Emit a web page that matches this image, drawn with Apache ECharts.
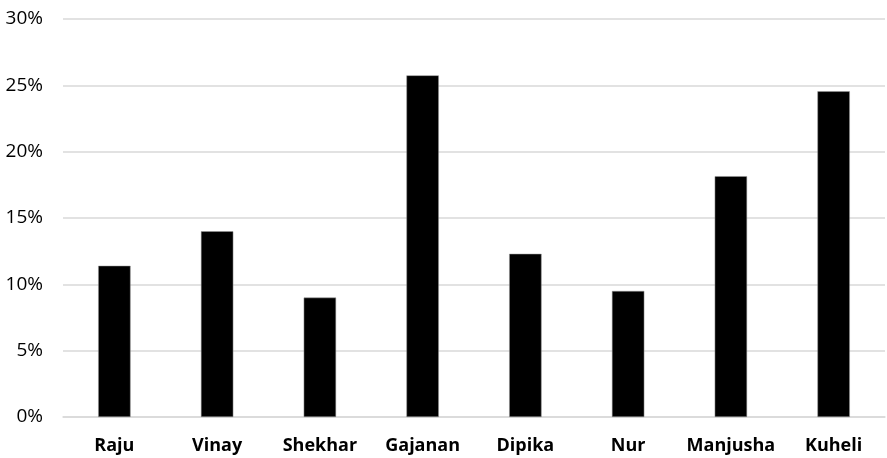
<!DOCTYPE html>
<html lang="en">
<head>
    <meta charset="UTF-8">
    <title>Share by person</title>
    <script src="https://cdn.jsdelivr.net/npm/echarts@6/dist/echarts.min.js"></script>
    <style>
        html, body { margin: 0; padding: 0; background: #fff; }
        #main { width: 887px; height: 458px; }
    </style>
</head>
<body>
<div id="main"></div>
<script type="text/javascript">
    // data
    var names = ['Raju', 'Vinay', 'Shekhar', 'Gajanan', 'Dipika', 'Nur', 'Manjusha', 'Kuheli'];
    var shares = [11.4, 14.0, 9.0, 25.75, 12.3, 9.5, 18.15, 24.55];
    var yTicks = [0, 5, 10, 15, 20, 25, 30];

    var myChart = echarts.init(document.getElementById('main'));

    var option = {
        animation: false,
        grid: {
            left: 63,
            right: 2,
            top: 19,
            bottom: 41,
            containLabel: false
        },
        xAxis: {
            type: 'category',
            data: names,
            axisLine: { show: true, lineStyle: { color: '#d9d9d9', width: 1.5 } },
            axisTick: { show: false },
            axisLabel: {
                interval: 0,
                color: '#000',
                fontFamily: 'Open Sans',
                fontWeight: 'bold',
                fontSize: 18,
                margin: 20
            }
        },
        yAxis: {
            type: 'value',
            min: yTicks[0],
            max: yTicks[yTicks.length - 1],
            interval: 5,
            axisLine: { show: false },
            axisTick: { show: false },
            splitLine: { lineStyle: { color: '#d9d9d9', width: 1.5 } },
            axisLabel: {
                color: '#000',
                fontFamily: 'Open Sans',
                fontSize: 19,
                margin: 20,
                formatter: function (v) { return v + '%'; }
            }
        },
        series: [
            {
                type: 'bar',
                data: shares,
                barWidth: '31.5%',
                itemStyle: {
                    color: '#000',
                    borderColor: '#999',
                    borderWidth: 0.5
                }
            }
        ]
    };
    myChart.setOption(option);
</script>
</body>
</html>
